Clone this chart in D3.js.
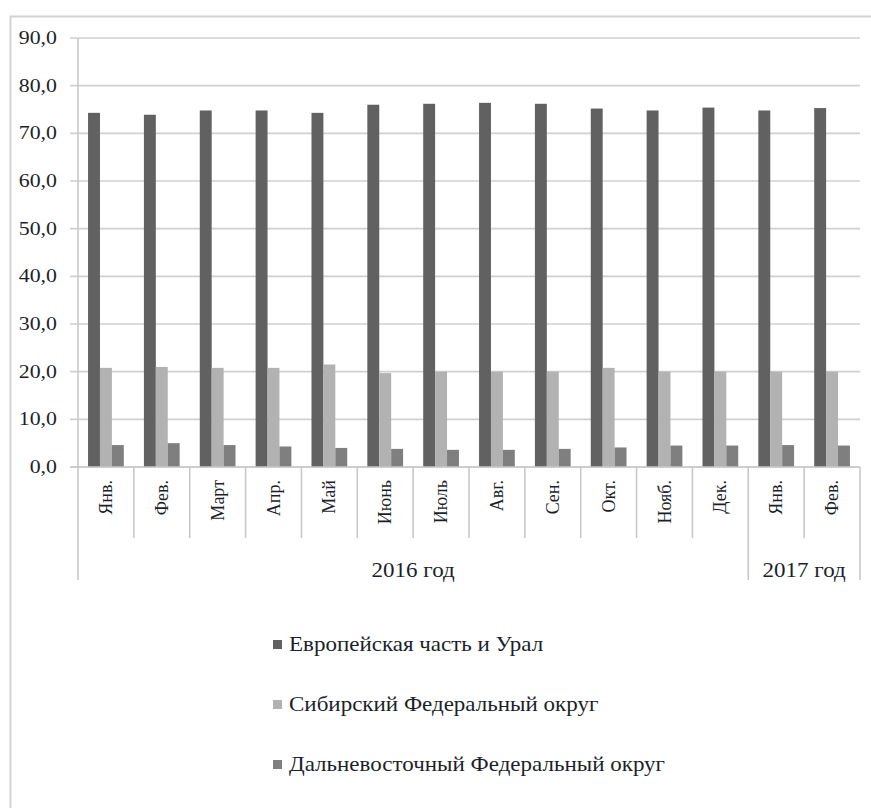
<!DOCTYPE html>
<html>
<head>
<meta charset="utf-8">
<script src="https://cdn.jsdelivr.net/npm/d3@7"></script>
<style>
  body { margin: 0; background: #fff; }
  svg text { fill: #1c1f2a; font-family: "Liberation Serif", "DejaVu Serif", serif; }
</style>
</head>
<body>
<div id="chart"></div>
<script>
// values
let months = ["Янв.", "Фев.", "Март", "Апр.", "Май", "Июнь", "Июль", "Авг.", "Сен.", "Окт.", "Нояб.", "Дек.", "Янв.", "Фев."];
let years = [{label: "2016 год", from: 0, to: 12}, {label: "2017 год", from: 12, to: 14}];
let seriesNames = ["Европейская часть и Урал", "Сибирский Федеральный округ", "Дальневосточный Федеральный округ"];
let europe = [74.3, 73.9, 74.8, 74.8, 74.3, 76.0, 76.2, 76.4, 76.2, 75.2, 74.8, 75.4, 74.8, 75.3];
let siberia = [20.8, 21.0, 20.8, 20.8, 21.5, 19.7, 20.0, 20.0, 20.0, 20.8, 20.0, 20.0, 20.0, 20.0];
let fareast = [4.6, 5.0, 4.6, 4.3, 4.0, 3.8, 3.6, 3.6, 3.8, 4.1, 4.5, 4.5, 4.6, 4.5];
let yTicks = [0, 10, 20, 30, 40, 50, 60, 70, 80, 90];

let colors = ["#616161", "#b2b2b2", "#7f7f7f"];
let series = [europe, siberia, fareast];

let svgW = 871, svgH = 808;
let plotL = 78, plotR = 860, plotT = 38, plotB = 467;
// the source text looks a bit stretched sideways
let stretch = 1.15;

let svg = d3.select("#chart").append("svg")
  .attr("width", svgW)
  .attr("height", svgH);

// outer frame
svg.append("path")
  .attr("d", "M10.5 808 V16.5 H871")
  .attr("fill", "none")
  .attr("stroke", "#d3d3d3")
  .attr("stroke-width", 2);

let y = d3.scaleLinear().domain([0, 90]).range([plotB, plotT]);
let x0 = d3.scaleBand().domain(d3.range(months.length)).range([plotL, plotR])
  .paddingInner(0.36).paddingOuter(0.18);
let x1 = d3.scaleBand().domain(d3.range(series.length)).range([0, x0.bandwidth()]);
let step = x0.step();

// grid lines
svg.append("g")
  .selectAll("line")
  .data(yTicks)
  .enter()
  .append("line")
  .attr("x1", plotL - 8)
  .attr("x2", plotR)
  .attr("y1", function(d) { return y(d); })
  .attr("y2", function(d) { return y(d); })
  .attr("stroke", "#d0d0d0")
  .attr("stroke-width", 1.6);

// y tick labels
svg.append("g")
  .selectAll("text")
  .data(yTicks)
  .enter()
  .append("text")
  .attr("transform", function(d) { return "translate(57," + (y(d) + 6) + ") scale(" + stretch + ",1)"; })
  .attr("text-anchor", "end")
  .attr("font-size", 19)
  .text(function(d) { return d3.format(".1f")(d).replace(".", ","); });

// y axis line
svg.append("line")
  .attr("x1", plotL).attr("x2", plotL)
  .attr("y1", plotT).attr("y2", 580)
  .attr("stroke", "#c8c8c8").attr("stroke-width", 1.6);

// bars
series.forEach(function(vals, s) {
  svg.append("g")
    .selectAll("rect")
    .data(vals)
    .enter()
    .append("rect")
    .attr("x", function(d, i) { return x0(i) + x1(s); })
    .attr("width", x1.bandwidth())
    .attr("y", function(d) { return y(d); })
    .attr("height", function(d) { return y(0) - y(d); })
    .attr("fill", colors[s]);
});

// category separators
let seps = d3.range(1, months.length + 1);
svg.append("g")
  .selectAll("line")
  .data(seps)
  .enter()
  .append("line")
  .attr("x1", function(i) { return plotL + i * step; })
  .attr("x2", function(i) { return plotL + i * step; })
  .attr("y1", plotB)
  .attr("y2", function(i) {
    let isGroupEdge = years.some(function(g) { return g.to === i; });
    return isGroupEdge ? 580 : 538;
  })
  .attr("stroke", "#c8c8c8").attr("stroke-width", 1.6);

// baseline
svg.append("line")
  .attr("x1", plotL - 8).attr("x2", plotR)
  .attr("y1", plotB).attr("y2", plotB)
  .attr("stroke", "#c8c8c8").attr("stroke-width", 1.6);

// month labels, rotated
svg.append("g")
  .selectAll("text")
  .data(months)
  .enter()
  .append("text")
  .attr("transform", function(d, i) {
    return "translate(" + (x0(i) + x0.bandwidth() / 2 + 6) + "," + 480 + ") rotate(-90)";
  })
  .attr("text-anchor", "end")
  .attr("font-size", 18)
  .text(function(d) { return d; });

// year labels
svg.append("g")
  .selectAll("text")
  .data(years)
  .enter()
  .append("text")
  .attr("transform", function(g) {
    return "translate(" + (plotL + (g.from + g.to) / 2 * step) + ",577) scale(" + stretch + ",1)";
  })
  .attr("text-anchor", "middle")
  .attr("font-size", 20)
  .text(function(g) { return g.label; });

// legend
let legend = svg.append("g")
  .selectAll("g")
  .data(seriesNames)
  .enter()
  .append("g")
  .attr("transform", function(d, i) { return "translate(273," + (645 + i * 60) + ")"; });

legend.append("rect")
  .attr("x", 0).attr("y", -5)
  .attr("width", 9).attr("height", 9)
  .attr("fill", function(d, i) { return colors[i]; });

legend.append("text")
  .attr("transform", "translate(16,6) scale(" + stretch + ",1)")
  .attr("font-size", 20)
  .text(function(d) { return d; });
</script>
</body>
</html>
